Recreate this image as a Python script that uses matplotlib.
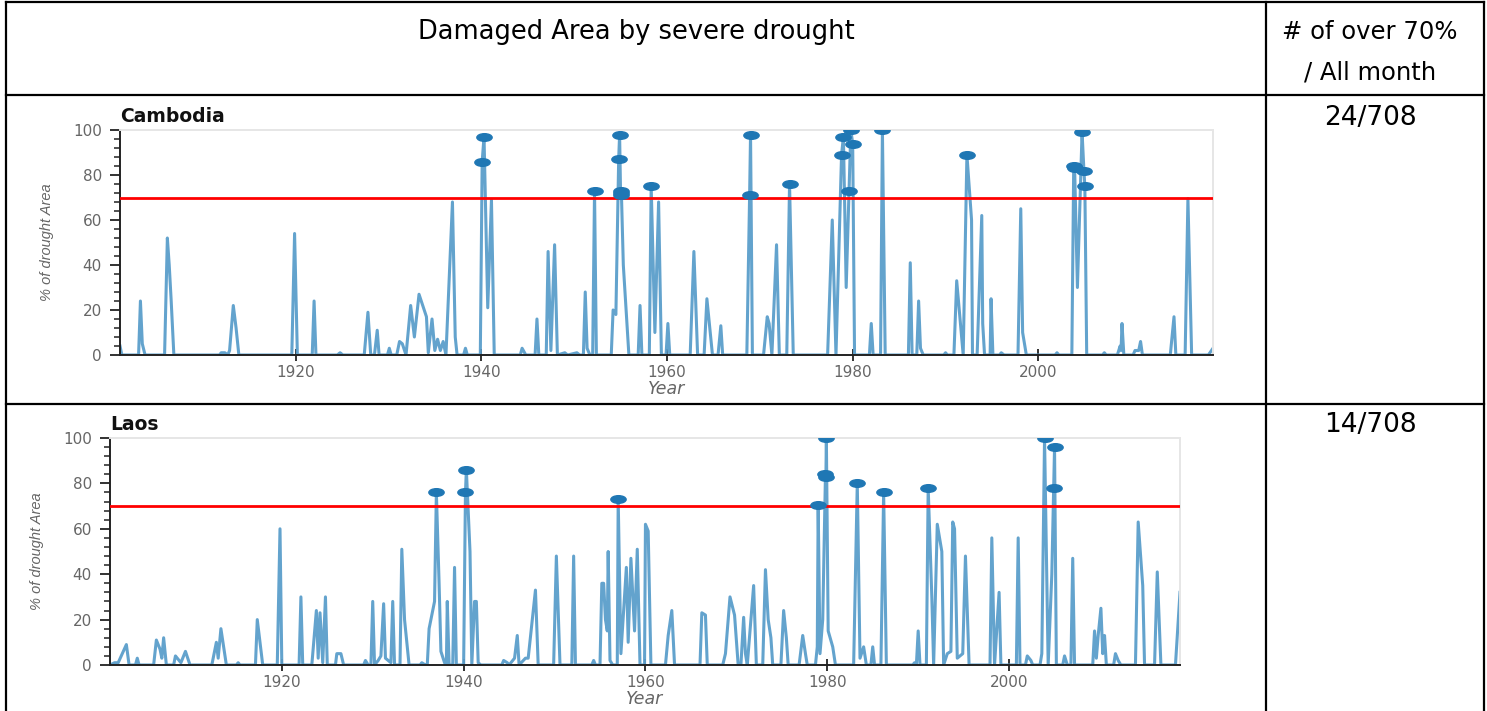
import matplotlib
matplotlib.use('Agg')
import matplotlib.pyplot as plt
import numpy as np
from matplotlib.lines import Line2D
from matplotlib.path import Path
from matplotlib.ticker import MultipleLocator

# ---------------- data ----------------
header_left = "Damaged Area by severe drought"
header_right = ["# of over 70%", "/ All month"]
threshold = 70

cam_name = "Cambodia"
cam_count = "24/708"
cam_years = [1901.1, 1901.3, 1903.1, 1903.3, 1903.5, 1903.8, 1905.9, 1906.2, 1906.4, 1906.6, 1906.9,
             1911.8, 1912.0, 1912.4, 1912.7, 1912.9, 1913.3, 1913.6, 1913.9, 1919.6, 1919.9, 1920.2,
             1921.8, 1922.0, 1922.2, 1924.5, 1924.8, 1925.1, 1927.4, 1927.8, 1928.1, 1928.5, 1928.8,
             1929.0, 1929.9, 1930.1, 1930.3, 1930.9, 1931.2, 1931.5, 1931.9, 1932.4, 1932.8, 1933.3,
             1933.7, 1934.1, 1934.3, 1934.7, 1935.0, 1935.3, 1935.6, 1935.9, 1936.2, 1936.9, 1937.2,
             1937.4, 1938.1, 1938.3, 1938.5, 1939.9, 1940.1, 1940.3, 1940.5, 1940.7, 1941.1, 1941.4,
             1944.2, 1944.4, 1944.8, 1945.8, 1946.0, 1946.2, 1947.0, 1947.2, 1947.5, 1947.9, 1948.2,
             1949.0, 1949.3, 1950.3, 1950.6, 1951.0, 1951.2, 1951.4, 1951.7, 1952.0, 1952.2, 1952.4,
             1954.0, 1954.2, 1954.5, 1954.8, 1954.9, 1955.0, 1955.05, 1955.1, 1955.3, 1955.9,
             1956.9, 1957.1, 1957.3, 1958.1, 1958.3, 1958.7, 1959.1, 1959.4, 1959.9, 1960.1, 1960.3,
             1962.5, 1962.9, 1963.3, 1964.0, 1964.3, 1964.9, 1965.5, 1965.8, 1966.0, 1968.6, 1968.9,
             1969.0, 1969.2, 1970.4, 1970.8, 1971.0, 1971.3, 1971.8, 1972.1, 1972.9, 1973.2, 1973.6,
             1977.3, 1977.8, 1978.2, 1978.8, 1979.0, 1979.3, 1979.6, 1979.8, 1980.0, 1980.2,
             1981.8, 1982.0, 1982.2, 1983.0, 1983.2, 1983.5, 1986.0, 1986.2, 1986.4, 1986.9, 1987.1,
             1987.3, 1987.6, 1989.8, 1990.0, 1990.2, 1990.9, 1991.2, 1991.9, 1992.3, 1992.8, 1992.9,
             1993.4, 1993.9, 1994.0, 1994.2, 1994.8, 1994.9, 1995.1, 1995.8, 1996.0, 1996.3,
             1997.8, 1998.1, 1998.3, 1998.7, 2001.8, 2002.0, 2002.2, 2003.6, 2003.8, 2003.9, 2004.2,
             2004.7, 2004.9, 2005.0, 2005.2, 2006.9, 2007.1, 2007.3, 2008.5, 2008.8, 2008.9, 2009.0,
             2009.2, 2010.2, 2010.4, 2010.8, 2011.0, 2011.2, 2014.2, 2014.6, 2014.8, 2015.8, 2016.1,
             2016.5, 2018.3, 2018.8]
cam_values = [4, 0, 0, 24, 5, 0, 0, 52, 40, 25, 0,
              0, 1, 1, 0, 2, 22, 12, 0, 0, 54, 0,
              0, 24, 0, 0, 1, 0, 0, 19, 0, 0, 11,
              0, 0, 3, 0, 0, 6, 5, 0, 22, 8, 27,
              22, 17, 1, 16, 2, 7, 2, 6, 0, 68, 8,
              0, 0, 3, 0, 0, 86, 97, 60, 21, 69, 0,
              0, 3, 0, 0, 16, 0, 0, 46, 2, 49, 0,
              1, 0, 1, 0, 0, 28, 3, 0, 0, 73, 0,
              0, 20, 18, 87, 98, 73, 72, 71, 40, 0,
              0, 22, 0, 0, 75, 10, 68, 0, 0, 14, 0,
              0, 46, 0, 0, 25, 0, 0, 13, 0, 0, 71,
              98, 0, 0, 17, 14, 0, 49, 0, 0, 76, 0,
              0, 60, 0, 89, 97, 30, 73, 100, 94, 0,
              0, 14, 0, 0, 100, 0, 0, 41, 0, 0, 24,
              3, 0, 0, 1, 0, 0, 33, 0, 89, 60, 0,
              0, 62, 14, 0, 0, 25, 0, 0, 1, 0,
              0, 65, 10, 0, 0, 1, 0, 0, 84, 83, 30,
              99, 82, 75, 0, 0, 1, 0, 0, 4, 2, 14,
              0, 0, 2, 2, 6, 0, 0, 17, 0, 0, 69.5,
              0, 0, 3]

lao_name = "Laos"
lao_count = "14/708"
lao_years = [1901.1, 1901.6, 1902.0, 1902.9, 1903.2, 1903.9, 1904.1, 1904.3, 1905.9, 1906.2, 1906.6,
             1906.8, 1907.0, 1907.3, 1908.1, 1908.3, 1908.9, 1909.4, 1909.9, 1912.3, 1912.8, 1913.0,
             1913.3, 1913.9, 1915.0, 1915.2, 1915.4, 1917.1, 1917.3, 1917.9, 1919.5, 1919.8, 1920.0,
             1921.9, 1922.1, 1922.3, 1923.3, 1923.8, 1924.0, 1924.2, 1924.5, 1924.8, 1925.0, 1925.9,
             1926.05, 1926.5, 1926.8, 1929.0, 1929.2, 1929.5, 1929.8, 1930.0, 1930.2, 1930.6, 1930.9,
             1931.2, 1931.4, 1931.7, 1932.0, 1932.2, 1932.4, 1933.0, 1933.2, 1933.5, 1934.0, 1935.2,
             1935.4, 1935.8, 1936.0, 1936.2, 1936.8, 1937.0, 1937.3, 1937.5, 1937.9, 1938.1, 1938.2,
             1938.4, 1938.8, 1939.0, 1939.2, 1940.0, 1940.2, 1940.3, 1940.7, 1940.9, 1941.2, 1941.4,
             1941.6, 1941.9, 1944.2, 1944.4, 1944.8, 1945.0, 1945.6, 1945.9, 1946.1, 1946.8, 1947.1,
             1947.9, 1948.2, 1949.9, 1950.2, 1950.6, 1951.9, 1952.1, 1952.3, 1954.1, 1954.3, 1954.5,
             1955.0, 1955.2, 1955.4, 1955.6, 1955.8, 1955.9, 1956.1, 1956.4, 1956.9, 1957.0, 1957.3,
             1957.9, 1958.1, 1958.4, 1958.8, 1959.1, 1959.4, 1959.9, 1960.0, 1960.3, 1960.6, 1962.2,
             1962.5, 1962.9, 1963.2, 1966.0, 1966.2, 1966.6, 1966.8, 1968.5, 1968.8, 1969.3, 1969.8,
             1970.2, 1970.5, 1970.8, 1971.0, 1971.2, 1971.9, 1972.2, 1972.9, 1973.2, 1973.5, 1973.8,
             1974.0, 1974.9, 1975.2, 1975.5, 1975.7, 1976.9, 1977.3, 1977.6, 1977.8, 1978.7, 1978.9,
             1979.0, 1979.2, 1979.5, 1979.8, 1979.85, 1979.9, 1980.1, 1980.6, 1980.9, 1982.9, 1983.3,
             1983.6, 1984.0, 1984.3, 1984.8, 1985.0, 1985.2, 1985.9, 1986.2, 1986.5, 1989.4, 1989.6,
             1989.8, 1990.0, 1990.2, 1990.9, 1991.1, 1991.5, 1991.7, 1992.1, 1992.6, 1992.8, 1993.2,
             1993.6, 1993.8, 1994.0, 1994.3, 1994.9, 1995.2, 1995.6, 1997.9, 1998.1, 1998.4, 1998.9,
             1999.1, 2000.8, 2001.0, 2001.2, 2001.8, 2002.0, 2002.4, 2002.6, 2003.4, 2003.6, 2003.9,
             2004.3, 2004.7, 2004.9, 2005.0, 2005.2, 2005.9, 2006.1, 2006.4, 2006.8, 2007.0, 2007.2,
             2009.2, 2009.4, 2009.6, 2009.8, 2010.1, 2010.3, 2010.5, 2010.7, 2011.5, 2011.7, 2012.0,
             2012.3, 2013.9, 2014.2, 2014.7, 2014.9, 2016.0, 2016.3, 2016.7, 2018.3, 2018.8]
lao_values = [0, 1, 1, 9, 0, 0, 3, 0, 0, 11, 7,
              3, 12, 0, 0, 4, 1, 6, 0, 0, 10, 3,
              16, 0, 0, 1, 0, 0, 20, 0, 0, 60, 0,
              0, 30, 0, 0, 24, 3, 23, 1, 30, 0, 0,
              5, 5, 0, 0, 2, 0, 0, 28, 0, 2, 4,
              27, 3, 2, 1, 28, 0, 0, 51, 20, 0, 0,
              1, 0, 0, 16, 28, 76, 36, 6, 1, 0, 28,
              0, 0, 43, 0, 0, 76, 86, 50, 0, 28, 28,
              1, 0, 0, 2, 1, 0, 3, 13, 0, 3, 3,
              33, 0, 0, 48, 0, 0, 48, 0, 0, 2, 0,
              0, 36, 36, 20, 15, 50, 2, 0, 0, 73, 5,
              43, 10, 47, 15, 51, 0, 0, 62, 59, 0, 0,
              13, 24, 0, 0, 23, 22, 0, 0, 5, 30, 22,
              0, 0, 21, 5, 0, 35, 0, 0, 42, 20, 12,
              0, 0, 24, 12, 0, 0, 13, 5, 0, 0, 8,
              70.3, 5, 20, 84, 83, 100, 15, 8, 0, 0, 80,
              3, 8, 0, 0, 8, 0, 0, 76, 0, 0, 1,
              0, 15, 0, 0, 78, 30, 0, 62, 50, 0, 5,
              6, 63, 60, 3, 5, 48, 0, 0, 56, 0, 32,
              0, 0, 56, 0, 0, 4, 2, 0, 0, 5, 100,
              0, 40, 78, 96, 0, 0, 4, 0, 0, 47, 0,
              0, 15, 3, 13, 25, 5, 13, 0, 0, 5, 2,
              0, 0, 63, 35, 0, 0, 41, 0, 0, 32]

x_ticks = [1920, 1940, 1960, 1980, 2000]
y_ticks = [0, 20, 40, 60, 80, 100]
x_range = (1901.1, 2018.8)

# ---------------- figure ----------------
W, H = 1487, 711
fig = plt.figure(figsize=(W / 100, H / 100), dpi=100)
fig.patch.set_facecolor('white')


def fx(x):
    return x / W


def fy(y):
    return 1 - y / H


def rule(x0, y0, x1, y1, lw=1.6):
    fig.add_artist(Line2D([fx(x0), fx(x1)], [fy(y0), fy(y1)], color='black', lw=lw,
                          transform=fig.transFigure, solid_capstyle='projecting'))


# table grid
rule(6, 2, 1484, 2)
rule(6, 2, 6, 711)
rule(1484, 2, 1484, 711)
rule(1266, 2, 1266, 711)
rule(6, 95, 1484, 95)
rule(6, 404, 1484, 404)

fig.text(fx(636), fy(32), header_left, ha='center', va='center', fontsize=18.5, family='DejaVu Sans')
fig.text(fx(1370), fy(32), header_right[0], ha='center', va='center', fontsize=17.5, family='DejaVu Sans')
fig.text(fx(1370), fy(72), header_right[1], ha='center', va='center', fontsize=17.5, family='DejaVu Sans')
fig.text(fx(1370), fy(118), cam_count, ha='center', va='center', fontsize=19, family='DejaVu Sans')
fig.text(fx(1370), fy(425), lao_count, ha='center', va='center', fontsize=19, family='DejaVu Sans')

circ = Path.unit_circle()
ellipse = Path(circ.vertices * np.array([1.0, 0.5]), circ.codes)


def panel(left, top, right, bottom, name, years, values):
    ax = fig.add_axes([fx(left), fy(bottom), fx(right - left), (bottom - top) / H])
    years = np.asarray(years, float)
    values = np.asarray(values, float)
    ax.plot(years, values, color='#5b9ecb', lw=2.2, alpha=0.95, zorder=2)
    hi = values > threshold
    ax.plot(years[hi], values[hi], ls='none', marker=ellipse, ms=11, color='#1f77b4', zorder=4)
    ax.axhline(threshold, color='#ff0000', lw=2.0, zorder=3)
    ax.set_xlim(*x_range)
    ax.set_ylim(0, 100)
    ax.set_xticks(x_ticks)
    ax.set_yticks(y_ticks)
    ax.yaxis.set_minor_locator(MultipleLocator(4))
    for s in ['left', 'bottom']:
        ax.spines[s].set_color('#222222')
        ax.spines[s].set_linewidth(1.4)
    for s in ['top', 'right']:
        ax.spines[s].set_color('#e6e6e6')
        ax.spines[s].set_linewidth(1.4)
    ax.tick_params(axis='y', which='major', length=7, width=1.3, color='#222222',
                   labelcolor='#666666', labelsize=11, pad=6)
    ax.tick_params(axis='y', which='minor', length=4, width=1.1, color='#222222')
    ax.tick_params(axis='x', which='major', direction='inout', length=8, width=1.3,
                   color='#222222', labelcolor='#666666', labelsize=11, pad=3)
    ax.set_ylabel('% of drought Area', fontsize=10.5, style='italic', color='#666666',
                  family='Liberation Sans')
    ax.yaxis.set_label_coords(-66 / (right - left), 0.5)
    ax.set_xlabel('Year', fontsize=12.5, style='italic', color='#666666')
    ax.xaxis.set_label_coords(0.5, -25 / (bottom - top))
    ax.text(0, 1 + 14 / (bottom - top), name, transform=ax.transAxes, ha='left', va='center',
            fontsize=13.5, fontweight='bold', color='#111111')
    return ax


panel(120, 130, 1213, 355, cam_name, cam_years, cam_values)
panel(110, 438, 1180, 665, lao_name, lao_years, lao_values)

fig.savefig('out.png', dpi=100, facecolor='white')
